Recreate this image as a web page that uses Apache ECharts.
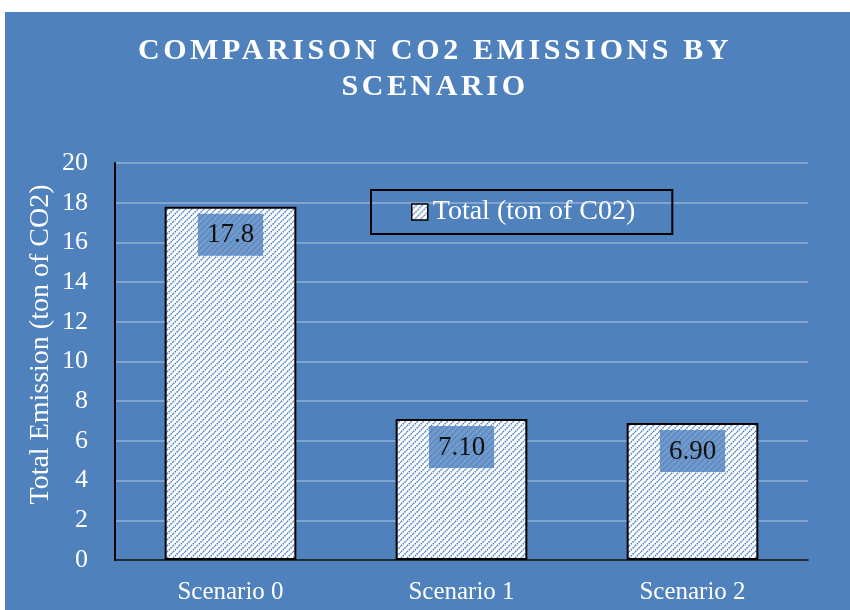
<!DOCTYPE html>
<html>
<head>
<meta charset="utf-8">
<script src="https://cdn.jsdelivr.net/npm/echarts@6/dist/echarts.min.js"></script>
<style>
  html, body { margin: 0; padding: 0; background: #ffffff; }
  #chart { position: absolute; left: 5px; top: 12px; width: 845px; height: 598px; }
</style>
</head>
<body>
<div id="chart"></div>
<script>
// Data
const categories = ['Scenario 0', 'Scenario 1', 'Scenario 2'];
const totals = [17.8, 7.10, 6.90];
const totalLabels = ['17.8', '7.10', '6.90'];
const yTicks = [0, 2, 4, 6, 8, 10, 12, 14, 16, 18, 20];
const seriesName = 'Total (ton of C02)';
const titleLines = ['COMPARISON CO2 EMISSIONS BY', 'SCENARIO'];

const BG = '#4f81bd';
const FONT = '"Liberation Serif", "DejaVu Serif", serif';

// Letter-spaced title: widen tracking only for the title lines when drawn
(function () {
  const spaced = new Set(titleLines);
  const proto = CanvasRenderingContext2D.prototype;
  const origFill = proto.fillText;
  proto.fillText = function (t) {
    if (spaced.has(t) && 'letterSpacing' in this) {
      const prev = this.letterSpacing;
      this.letterSpacing = '3.6px';
      const r = origFill.apply(this, arguments);
      this.letterSpacing = prev;
      return r;
    }
    return origFill.apply(this, arguments);
  };
})();

// Diagonal hatch fill (white with blue "/" strokes)
function makeHatch() {
  const c = document.createElement('canvas');
  const s = 6;
  c.width = s; c.height = s;
  const g = c.getContext('2d');
  g.fillStyle = '#ffffff';
  g.fillRect(0, 0, s, s);
  g.strokeStyle = '#4f83c6';
  g.lineWidth = 1.5;
  g.setLineDash([1.6, 0.9]);
  for (let k = -1; k <= 1; k++) {
    g.beginPath();
    g.moveTo(k * s, s);
    g.lineTo(k * s + s, 0);
    g.stroke();
  }
  return c;
}
const hatch = { image: makeHatch(), repeat: 'repeat' };

const chart = echarts.init(document.getElementById('chart'), null, { renderer: 'canvas' });
chart.setOption({
  backgroundColor: BG,
  animation: false,
  title: {
    text: titleLines.join('\n'),
    left: 425,
    textAlign: 'center',
    top: 16,
    textStyle: {
      color: '#ffffff',
      fontFamily: FONT,
      fontWeight: 'bold',
      fontSize: 30,
      lineHeight: 36
    }
  },
  legend: {
    left: 366,
    top: 178,
    padding: [8, 37, 8, 40],
    borderColor: '#000000',
    borderWidth: 2,
    itemWidth: 16,
    itemHeight: 16,
    itemGap: 5,
    data: [{ name: seriesName, icon: 'rect', itemStyle: { borderColor: '#000', borderWidth: 1.5 } }],
    textStyle: { color: '#ffffff', fontFamily: FONT, fontSize: 28 }
  },
  grid: { left: 110, right: 42, top: 151, bottom: 50 },
  xAxis: {
    type: 'category',
    data: categories,
    axisLine: { lineStyle: { color: '#000000', width: 1.5 } },
    axisTick: { show: false },
    axisLabel: { color: '#ffffff', fontFamily: FONT, fontSize: 25, margin: 20 }
  },
  yAxis: {
    type: 'value',
    min: yTicks[0],
    max: yTicks[yTicks.length - 1],
    interval: 2,
    name: 'Total Emission (ton of CO2)',
    nameLocation: 'middle',
    nameGap: 60,
    nameMoveOverlap: false,
    nameTextStyle: { color: '#ffffff', fontFamily: FONT, fontSize: 28, padding: [0, 0, 0, 34] },
    axisLine: { show: true, lineStyle: { color: '#000000', width: 2 } },
    axisTick: { show: false },
    axisLabel: { color: '#ffffff', fontFamily: FONT, fontSize: 26, margin: 27 },
    splitLine: { lineStyle: { color: '#93b0d9', width: 1.5 } }
  },
  series: [{
    name: seriesName,
    type: 'bar',
    data: totals,
    barWidth: '57%',
    itemStyle: { color: hatch, borderColor: '#000000', borderWidth: 2 },
    label: {
      show: true,
      position: 'insideTop',
      distance: 7,
      formatter: p => totalLabels[p.dataIndex],
      color: '#111111',
      fontFamily: FONT,
      fontSize: 27,
      backgroundColor: 'rgba(79,129,189,0.8)',
      padding: [8, 9, 7, 9]
    }
  }]
});
</script>
</body>
</html>
